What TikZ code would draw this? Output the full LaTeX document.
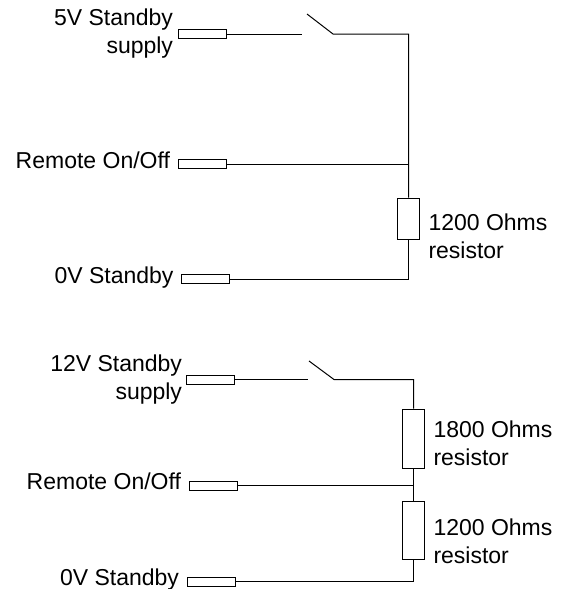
\documentclass[tikz,border=0pt]{standalone}
\usepackage{fontspec}
\setmainfont{Liberation Sans}
\usetikzlibrary{positioning,calc}

\begin{document}
\begin{tikzpicture}
	[
	 x = 1pt,
	 y = -1pt,
	 line width = 1pt,
	 every node/.style = {font = \fontsize{23}{28}\selectfont,
	                      inner sep = 0pt},
	 jack/.style = {shape=rectangle,
	                draw,
	                minimum width  = 48pt,
	                minimum height = 9pt},
	 resbox/.style = {shape=rectangle,
	                  draw,
	                  minimum width = 22pt},
	 jacktext/.style = {align=right},
	 restext/.style  = {align=left, anchor=north west}
	]

	\newcommand{\SBfive}{5V Standby\\supply}
	\newcommand{\SBtwelve}{12V Standby\\supply}
	\newcommand{\RemOO}{Remote On/Off}
	\newcommand{\ZeroSB}{0V Standby}

	\useasboundingbox (0,0) rectangle (560,589);

	% 5V circuit
	\node [jack] (A1) at (202,34) {};
	\node [jack] (A2) at (202,164) {};
	\node [jack] (A3) at (205.5,279) {};
	\node [resbox, minimum height = 41pt] (RA) at (408.5,218.5) {};
	\coordinate (SA1) at (302,34);
	\coordinate (SA2) at (307,14);
	\coordinate (SA3) at (333,34);
	\coordinate (JA)  at (408.5,164);

	\node [jacktext, left = 4pt of A1] (LA1) {\SBfive};
	\node [jacktext, anchor = base east] (LA2) at ($(A2.south west)+(-7,-1)$) {\RemOO};
	\node [jacktext, anchor = base east] (LA3) at ($(A3.south west)+(-7,-1)$) {\ZeroSB};
	\node [restext] (LRA) at (428,213) {1200 Ohms\\resistor};

	\draw (A1.east) -- (SA1);
	\draw (SA2) -- (SA3) -| (RA.north);
	\draw (A2.east) -- (JA);
	\draw (RA.south) |- (A3.east);

	% 12V circuit
	\node [jack] (B1) at (210,379.5) {};
	\node [jack] (B2) at (213,485.5) {};
	\node [jack] (B3) at (211,581.5) {};
	\node [resbox, minimum height = 59pt] (RB) at (413.5,438.5) {};
	\node [resbox, minimum height = 58pt] (RC) at (413.5,530) {};
	\coordinate (SB1) at (308,379.5);
	\coordinate (SB2) at (309,361);
	\coordinate (SB3) at (334,379.5);
	\coordinate (JB)  at (413.5,485.5);

	\node [jacktext, left = 3pt of B1] (LB1) {\SBtwelve};
	\node [jacktext, anchor = base east] (LB2) at ($(B2.south west)+(-7,-1)$) {\RemOO};
	\node [jacktext, anchor = base east] (LB3) at ($(B3.south west)+(-7,-1)$) {\ZeroSB};
	\node [restext] (LRB) at (433,420) {1800 Ohms\\resistor};
	\node [restext] (LRC) at (433,518) {1200 Ohms\\resistor};

	\draw (B1.east) -- (SB1);
	\draw (SB2) -- (SB3) -| (RB.north);
	\draw (B2.east) -- (JB);
	\draw (RB.south) -- (RC.north);
	\draw (RC.south) |- (B3.east);
\end{tikzpicture}
\end{document}
